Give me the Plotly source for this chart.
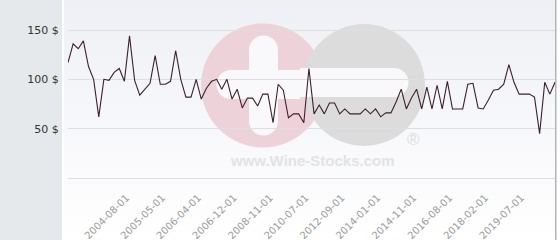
import plotly.graph_objects as go

# ---- data ----
dates = [
    "2003-09-01", "2003-10-01", "2003-11-01", "2003-12-01", "2004-01-01", "2004-02-01",
    "2004-03-01", "2004-04-01", "2004-05-01", "2004-06-01", "2004-07-01", "2004-08-01",
    "2004-09-01", "2004-10-01", "2004-12-01", "2005-01-01", "2005-02-01", "2005-04-01", "2005-05-01",
    "2005-06-01", "2005-08-01", "2005-09-01", "2005-11-01", "2006-01-01", "2006-02-01", "2006-04-01",
    "2006-05-01", "2006-06-01", "2006-07-01", "2006-08-01", "2006-10-01", "2006-11-01", "2006-12-01",
    "2007-03-01", "2007-06-01", "2007-10-01", "2008-01-01", "2008-05-01", "2008-08-01", "2008-11-01",
    "2009-02-01", "2009-05-01", "2009-08-01", "2009-11-01", "2010-02-01", "2010-04-01", "2010-07-01",
    "2010-11-01", "2011-03-01", "2011-06-01", "2011-10-01", "2012-01-01", "2012-05-01", "2012-09-01",
    "2012-11-01", "2013-01-01", "2013-03-01", "2013-05-01", "2013-08-01", "2013-10-01", "2014-01-01",
    "2014-02-01", "2014-03-01", "2014-05-01", "2014-06-01", "2014-08-01", "2014-09-01", "2014-11-01",
    "2015-01-01", "2015-04-01", "2015-07-01", "2015-10-01", "2016-01-01", "2016-04-01", "2016-08-01",
    "2016-10-01", "2016-12-01", "2017-03-01", "2017-06-01", "2017-09-01", "2017-12-01", "2018-02-01",
    "2018-04-01", "2018-07-01", "2018-09-01", "2018-12-01", "2019-02-01", "2019-04-01", "2019-07-01",
    "2019-09-01", "2019-11-01", "2020-01-01", "2020-03-01", "2020-05-01", "2020-07-01", "2020-09-01",
]
prices = [
    117, 136, 131, 139, 113, 100, 62, 100, 99, 107, 111, 98,
    144, 99, 84, 90, 96, 124, 95,
    95, 98, 129, 100, 82, 82, 100,
    80, 91, 98, 100, 90, 100, 80,
    90, 71, 81, 81, 73, 85, 85,
    56, 95, 89, 61, 65, 65, 56,
    111, 65, 74, 65, 76, 76, 65,
    70, 65, 65, 65, 70, 65, 70,
    62, 66, 66, 77, 90, 70, 81,
    90, 70, 92, 70, 94, 70, 98,
    70, 70, 70, 95, 96, 71, 70,
    79, 89, 90, 95, 115, 97, 85,
    85, 85, 82, 45, 97, 85, 97,
]
x_tick_labels = [
    "2004-08-01", "2005-05-01", "2006-04-01", "2006-12-01", "2008-11-01", "2010-07-01",
    "2012-09-01", "2014-01-01", "2014-11-01", "2016-08-01", "2018-02-01", "2019-07-01",
]
y_tick_values = [50, 100, 150]
y_tick_labels = ["50 $", "100 $", "150 $"]

# ---- layout geometry (pixels) ----
W, H = 560, 240
ML, MR, MT, MB = 68, 5, 0, 61
PW = W - ML - MR
PH = H - MT - MB


def px(xp):
    return (xp - ML) / PW


def py(yp):
    return (MT + PH - yp) / PH


shapes = []
# left grey panel
shapes.append(dict(type="rect", xref="paper", yref="paper", layer="below",
                   x0=px(0), x1=px(62), y0=py(H), y1=py(0),
                   fillcolor="#e6e9ec", line=dict(width=0)))
# gradient background bands
n_bands = 30
top_rgb = (238, 240, 245)
bot_rgb = (255, 255, 255)
for i in range(n_bands):
    t = i / (n_bands - 1)
    c = tuple(round(top_rgb[k] + (bot_rgb[k] - top_rgb[k]) * t) for k in range(3))
    y0p = i * H / n_bands
    y1p = (i + 1) * H / n_bands + 0.5
    shapes.append(dict(type="rect", xref="paper", yref="paper", layer="below",
                       x0=px(64), x1=px(555), y0=py(y1p), y1=py(y0p),
                       fillcolor="rgb(%d,%d,%d)" % c, line=dict(width=0)))
# right border line
shapes.append(dict(type="rect", xref="paper", yref="paper", layer="below",
                   x0=px(555), x1=px(556.5), y0=py(H), y1=py(0),
                   fillcolor="#b4b4b4", line=dict(width=0)))

# watermark logo
pink = "#edd3d9"
grey = "#dcdcdc"
wm_white = "#f9f9fb"


def circ(cx, cy, r, color):
    return dict(type="circle", xref="paper", yref="paper", layer="below",
                x0=px(cx - r), x1=px(cx + r), y0=py(cy + r), y1=py(cy - r),
                fillcolor=color, line=dict(width=0))


def rect(x0, x1, y0, y1, color):
    return dict(type="rect", xref="paper", yref="paper", layer="below",
                x0=px(x0), x1=px(x1), y0=py(y1), y1=py(y0),
                fillcolor=color, line=dict(width=0))


shapes.append(circ(263, 85.5, 62, pink))
shapes.append(circ(364, 85, 61, grey))
# plus sign
shapes.append(rect(249, 278, 50, 121, wm_white))
shapes.append(circ(263.5, 50, 14.5, wm_white))
shapes.append(circ(263.5, 121, 14.5, wm_white))
shapes.append(rect(231, 300, 70, 99, wm_white))
shapes.append(circ(231, 84.5, 14.5, wm_white))
# minus sign
shapes.append(rect(300, 394, 68, 97, wm_white))
shapes.append(circ(394, 82.5, 14.5, wm_white))

annotations = [
    dict(text="<b>www.Wine-Stocks.com</b>", xref="paper", yref="paper",
         x=px(312), y=py(160), showarrow=False,
         font=dict(family="Liberation Sans, Arial", size=15, color="#e3e3e5"),
         xanchor="center", yanchor="middle"),
    dict(text="®", xref="paper", yref="paper",
         x=px(413), y=py(139), showarrow=False,
         font=dict(family="Liberation Sans, Arial", size=17, color="#dedede"),
         xanchor="center", yanchor="middle"),
]

fig = go.Figure()
fig.add_trace(go.Scatter(
    x=dates, y=prices, mode="lines",
    line=dict(color="#3d1f2c", width=1.1),
    hoverinfo="x+y",
))

fig.update_layout(
    width=W, height=H,
    margin=dict(l=ML, r=MR, t=MT, b=MB, pad=0),
    paper_bgcolor="white",
    plot_bgcolor="rgba(0,0,0,0)",
    showlegend=False,
    shapes=shapes,
    annotations=annotations,
    font=dict(family="DejaVu Sans, Verdana, sans-serif"),
    xaxis=dict(
        type="category",
        range=[0, len(dates) - 1],
        showgrid=False, zeroline=False, showline=False,
        tickmode="array", tickvals=x_tick_labels, ticktext=x_tick_labels,
        tickangle=-45,
        ticks="outside", ticklen=8, tickcolor="rgba(0,0,0,0)",
        ticklabelshift=2,
        tickfont=dict(family="DejaVu Sans, Verdana, sans-serif", size=10, color="#9a9a9a"),
    ),
    yaxis=dict(
        range=[-1.0135, 180.4],
        tickmode="array", tickvals=y_tick_values, ticktext=y_tick_labels,
        showgrid=True, gridcolor="#dedee2", gridwidth=1,
        zeroline=True, zerolinecolor="#dedee2", zerolinewidth=1,
        showline=False,
        ticks="outside", ticklen=6, tickcolor="rgba(0,0,0,0)",
        tickfont=dict(family="DejaVu Sans, Verdana, sans-serif", size=11, color="#333333"),
    ),
)

fig.write_html("out.html")
